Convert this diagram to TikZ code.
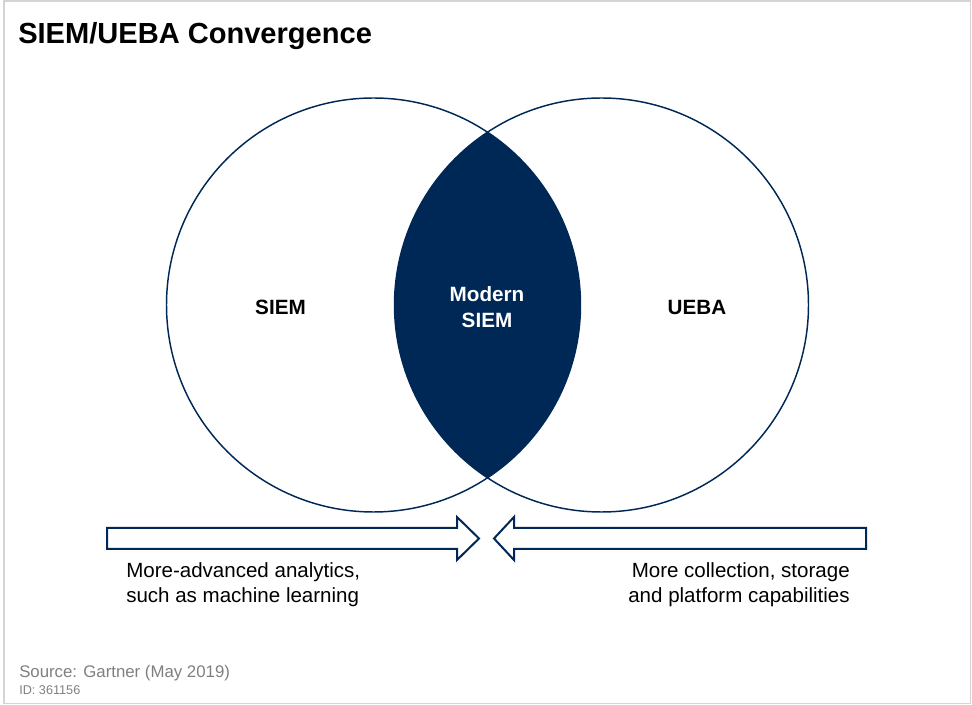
\documentclass[tikz,border=0pt]{standalone}
\usepackage{fontspec}
\setmainfont{Liberation Sans}
\definecolor{navy}{HTML}{002856}
\definecolor{srcgray}{HTML}{7F7F7F}
\definecolor{framegray}{HTML}{D4D4D4}
\begin{document}
\begin{tikzpicture}[x=0.75pt,y=-0.75pt,
  vennc/.style={circle,draw=navy,line width=1.1pt,minimum size=310.5pt,inner sep=0pt,outer sep=0pt},
  bigarrow/.style={draw=navy,line width=1.5pt,fill=white,line join=miter},
  lbl/.style={inner sep=0pt,font=\fontsize{15.5pt}{19pt}\selectfont\bfseries},
  note/.style={inner sep=0pt,font=\fontsize{15.4pt}{18.75pt}\selectfont},
  title/.style={inner sep=0pt,font=\fontsize{21.8pt}{26pt}\selectfont\bfseries,anchor=base west}]
\useasboundingbox (0,0) rectangle (972,705);
\draw[framegray,line width=0.8pt] (4,1) rectangle (970.5,703.5);
\node[title] (ttl) at (18,44) {SIEM/UEBA Convergence};
% lens
\begin{scope}
  \clip (373.5,305) circle[radius=155.25pt];
  \fill[navy] (601.5,305) circle[radius=155.25pt];
\end{scope}
\node[vennc] (siem) at (373.5,305) {};
\node[vennc] (ueba) at (601.5,305) {};
\node[lbl,anchor=base] (siemlbl) at (280.5,314.5) {SIEM};
\node[lbl,anchor=base] (uebalbl) at (697,314.5) {UEBA};
\node[lbl,anchor=base,align=center,text=white,font=\fontsize{15.5pt}{19.2pt}\selectfont\bfseries] (modern) at (487,327.3) {Modern\\SIEM};
% arrows
\draw[bigarrow] (107,528) -- (457,528) -- (457,517) -- (479,538.5) -- (457,560) -- (457,549) -- (107,549) -- cycle;
\draw[bigarrow] (866,528) -- (514,528) -- (514,517) -- (494,538.5) -- (514,560) -- (514,549) -- (866,549) -- cycle;
\node[note,anchor=base west,align=left] (lefttxt) at (126,602.5) {More-advanced analytics,\\such as machine learning};
\node[note,anchor=base east,align=right] (righttxt) at (850,602.5) {More collection, storage\\and platform capabilities};
% source
\node[inner sep=0pt,anchor=base west,text=srcgray,font=\fontsize{12.6pt}{15pt}\selectfont] (src) at (19,677.5) {Source: Gartner (May 2019)};
\node[inner sep=0pt,anchor=base west,text=srcgray,font=\fontsize{9.5pt}{11pt}\selectfont] (id) at (19,694.5) {ID: 361156};
\end{tikzpicture}
\end{document}
